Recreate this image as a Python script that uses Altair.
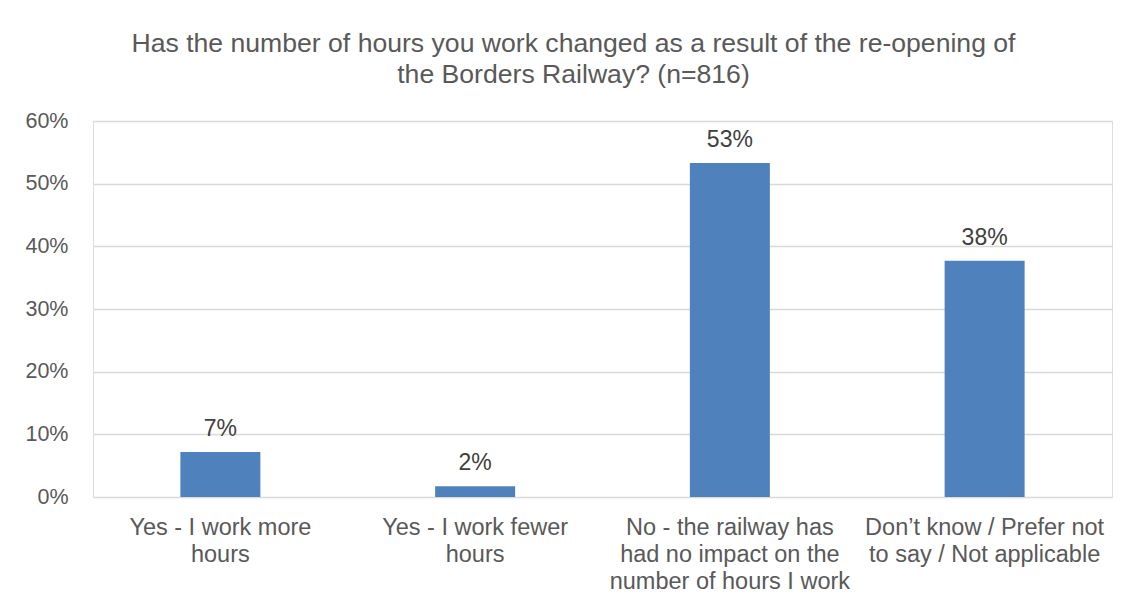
import altair as alt
import pandas as pd

categories = [
    "Yes - I work more|hours",
    "Yes - I work fewer|hours",
    "No - the railway has|had no impact on the|number of hours I work",
    "Don\u2019t know / Prefer not|to say / Not applicable",
]
values = [0.072, 0.017, 0.533, 0.377]
value_labels = ["7%", "2%", "53%", "38%"]
y_ticks = [0, 0.1, 0.2, 0.3, 0.4, 0.5, 0.6]

df = pd.DataFrame({"category": categories, "value": values, "label": value_labels})

FONT = "Liberation Sans"
TEXT = "#595959"

x = alt.X(
    "category:N",
    sort=categories,
    scale=alt.Scale(paddingInner=0.686, paddingOuter=0.343),
    axis=alt.Axis(
        title=None,
        labelAngle=0,
        labelExpr="split(datum.value, '|')",
        labelFont=FONT,
        labelFontSize=23.5,
        labelLineHeight=27,
        labelColor=TEXT,
        labelPadding=18,
        labelLimit=400,
        labelBaseline="top",
        domain=False,
        ticks=False,
        grid=False,
    ),
)
y = alt.Y(
    "value:Q",
    scale=alt.Scale(domain=[0, 0.6], nice=False),
    axis=alt.Axis(
        title=None,
        values=y_ticks,
        format=".0%",
        labelFont=FONT,
        labelFontSize=21.5,
        labelColor=TEXT,
        labelPadding=25,
        domain=False,
        ticks=False,
        grid=True,
        gridColor="#D9D9D9",
        gridWidth=1.3,
    ),
)

bars = alt.Chart(df).mark_bar(color="#4F81BD").encode(x=x, y=y)
labels = alt.Chart(df).mark_text(
    font=FONT, fontSize=23, color="#404040", baseline="alphabetic", dy=-16
).encode(x=alt.X("category:N", sort=categories), y="value:Q", text="label:N")

chart = (
    alt.layer(bars, labels)
    .properties(
        width=1019,
        height=376,
        padding={"left": 85, "top": 113, "right": 12, "bottom": 100},
        autosize=alt.AutoSizeParams(type="none"),
        title=alt.TitleParams(
            text=[
                "Has the number of hours you work changed as a result of the re-opening of",
                "the Borders Railway? (n=816)",
            ],
            font=FONT,
            fontSize=26.6,
            fontWeight="normal",
            color=TEXT,
            lineHeight=31,
            anchor="middle",
            dx=-29,
            offset=21,
        ),
    )
    .configure_view(stroke=None)
    .configure(background="white")
)

chart.save("out.html", embed_options={"renderer": "svg", "actions": False})
